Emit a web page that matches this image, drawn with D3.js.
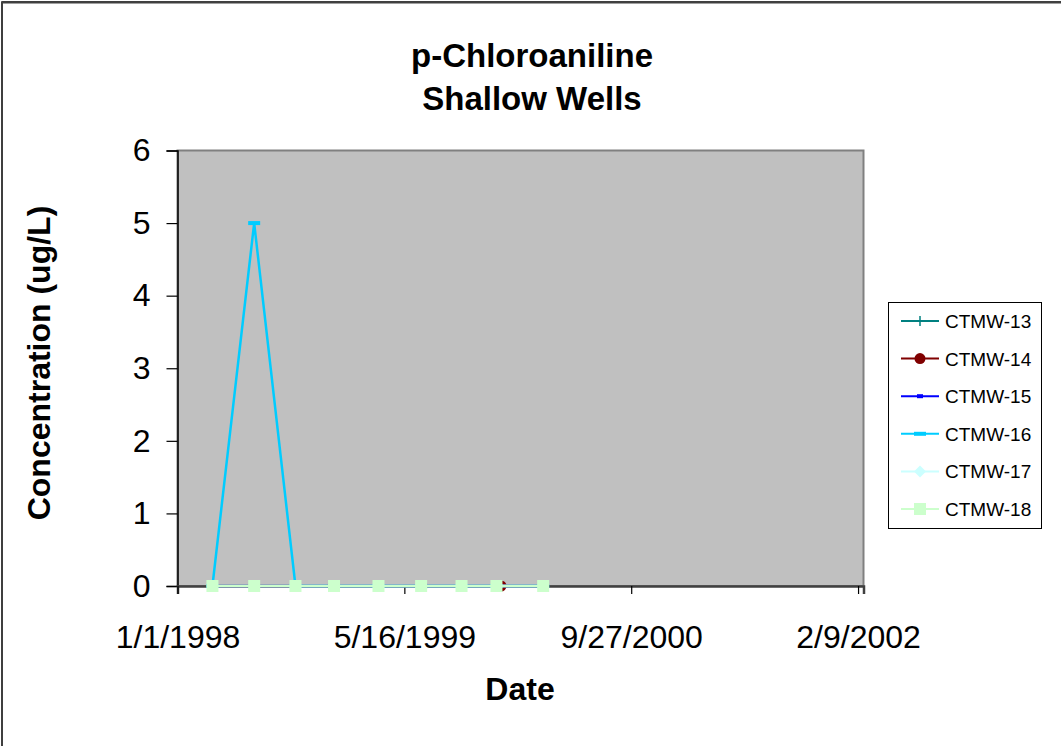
<!DOCTYPE html>
<html>
<head>
<meta charset="utf-8">
<script src="https://cdn.jsdelivr.net/npm/d3@7"></script>
<style>
  html, body { margin: 0; padding: 0; background: #fff; }
  svg { display: block; font-family: Arial, "Liberation Sans", sans-serif; }
</style>
</head>
<body>
<svg id="chart" width="1061" height="746"></svg>
<script>
// Sampling dates (shared by most wells)
const sampleDates = ["1998-03-19", "1998-06-19", "1998-09-18", "1998-12-12", "1999-03-20",
                     "1999-06-22", "1999-09-19", "1999-12-05", "2000-03-17"];
const ctmw14Dates = ["1998-03-19", "1998-06-20", "1998-09-18", "1998-12-10", "1999-03-20",
                     "1999-06-24", "1999-09-19", "1999-12-15", "2000-03-17"];

// Concentrations (ug/L)
const ctmw13 = [0, 0, 0, 0, 0, 0, 0, 0, 0];
const ctmw14 = [0, 0, 0, 0, 0, 0, 0, 0, 0];
const ctmw15 = [0, 0, 0, 0, 0, 0, 0, 0, 0];
const ctmw16 = [0, 5, 0, 0, 0, 0, 0, 0, 0];
const ctmw17 = [0, 0, 0, 0, 0, 0, 0, 0, 0];
const ctmw18 = [0, 0, 0, 0, 0, 0, 0, 0, 0];

const seriesNames = ["CTMW-13", "CTMW-14", "CTMW-15", "CTMW-16", "CTMW-17", "CTMW-18"];
const xTickLabels = ["1/1/1998", "5/16/1999", "9/27/2000", "2/9/2002"];
const yTicks = [0, 1, 2, 3, 4, 5, 6];

const parse = d3.timeParse("%Y-%m-%d");
const parseTick = d3.timeParse("%m/%d/%Y");

const styles = [
  { color: "#008080", marker: "plus" },
  { color: "#800000", marker: "circle" },
  { color: "#0000FF", marker: "smallbar" },
  { color: "#00CCFF", marker: "bar" },
  { color: "#CCFFFF", marker: "diamond" },
  { color: "#CCFFCC", marker: "square" }
];

const series = [
  { name: seriesNames[0], dates: sampleDates, values: ctmw13 },
  { name: seriesNames[1], dates: ctmw14Dates, values: ctmw14 },
  { name: seriesNames[2], dates: sampleDates, values: ctmw15 },
  { name: seriesNames[3], dates: sampleDates, values: ctmw16 },
  { name: seriesNames[4], dates: sampleDates, values: ctmw17 },
  { name: seriesNames[5], dates: sampleDates, values: ctmw18 }
].map((s, i) => ({
  ...s, ...styles[i],
  points: s.dates.map((d, j) => ({ date: parse(d), value: s.values[j] }))
}));

const svg = d3.select("#chart");
const FONT = "Arial, 'Liberation Sans', sans-serif";

// Outer chart frame
svg.append("rect").attr("x", 2).attr("y", 2).attr("width", 1080).attr("height", 760)
  .attr("fill", "#fff").attr("stroke", "#000").attr("stroke-width", 1.5);
svg.append("line").attr("x1", 2).attr("x2", 1061).attr("y1", 2.5).attr("y2", 2.5)
  .attr("stroke", "#404040").attr("stroke-width", 2);

const plot = { left: 177.5, right: 863.5, top: 150.5, bottom: 586 };

const xMin = parseTick("1/1/1998");
const xMax = d3.timeDay.offset(xMin, 1512);
const x = d3.scaleTime().domain([xMin, xMax]).range([plot.left, plot.right]);
const y = d3.scaleLinear().domain([0, 6]).range([plot.bottom, plot.top]);

// Plot area
svg.append("rect")
  .attr("x", plot.left).attr("y", plot.top)
  .attr("width", plot.right - plot.left).attr("height", plot.bottom - plot.top)
  .attr("fill", "#C0C0C0").attr("stroke", "#808080").attr("stroke-width", 2);

// Y axis
const yAxis = d3.axisLeft(y).tickValues(yTicks).tickSize(11).tickPadding(16).tickFormat(d3.format("d"));
const yg = svg.append("g").attr("transform", `translate(${plot.left},0)`).call(yAxis);
yg.attr("font-size", null).attr("font-family", null);
yg.select(".domain").attr("stroke", "#000").attr("stroke-width", 1.5);
yg.selectAll(".tick line").attr("stroke", "#000").attr("stroke-width", 1.2);
yg.selectAll(".tick text").style("font-size", "32px").attr("fill", "#000").style("font-family", FONT);

// X axis
const xTickDates = xTickLabels.map(parseTick);
const xAxis = d3.axisBottom(x).tickValues(xTickDates).tickSize(8).tickPadding(31)
  .tickFormat((d, i) => xTickLabels[i]);
const xg = svg.append("g").attr("transform", `translate(0,${plot.bottom})`).call(xAxis);
xg.attr("font-size", null).attr("font-family", null);
xg.select(".domain").attr("stroke", "#404040").attr("stroke-width", 2.5);
xg.selectAll(".tick line").attr("stroke", "#000").attr("stroke-width", 1.2);
xg.selectAll(".tick text").style("font-size", "32px").attr("fill", "#000").style("font-family", FONT);

// Marker drawing
function drawMarker(g, type, color, cx, cy) {
  switch (type) {
    case "plus":
      g.append("path").attr("d", `M${cx - 5},${cy}H${cx + 5}M${cx},${cy - 5}V${cy + 5}`)
        .attr("stroke", color).attr("stroke-width", 1.5).attr("fill", "none");
      break;
    case "circle":
      g.append("circle").attr("cx", cx).attr("cy", cy).attr("r", 5.5).attr("fill", color);
      break;
    case "smallbar":
      g.append("rect").attr("x", cx - 3).attr("y", cy - 2).attr("width", 6).attr("height", 4).attr("fill", color);
      break;
    case "bar":
      g.append("rect").attr("x", cx - 6).attr("y", cy - 2).attr("width", 12).attr("height", 4).attr("fill", color);
      break;
    case "diamond":
      g.append("path").attr("d", `M${cx},${cy - 6}L${cx + 6},${cy}L${cx},${cy + 6}L${cx - 6},${cy}Z`).attr("fill", color);
      break;
    case "square":
      g.append("rect").attr("x", cx - 6).attr("y", cy - 6).attr("width", 12).attr("height", 12).attr("fill", color);
      break;
  }
}

const line = d3.line().x(d => x(d.date)).y(d => y(d.value));

series.forEach(s => {
  const g = svg.append("g");
  g.append("path").datum(s.points).attr("d", line)
    .attr("fill", "none").attr("stroke", s.color).attr("stroke-width", 2.5);
  s.points.forEach(p => drawMarker(g, s.marker, s.color, x(p.date), y(p.value)));
});

// Titles
const title = svg.append("text").attr("text-anchor", "middle")
  .attr("font-weight", "bold").style("font-size", "33px").attr("fill", "#000");
title.append("tspan").attr("x", 532).attr("y", 67).text("p-Chloroaniline");
title.append("tspan").attr("x", 532).attr("y", 110).text("Shallow Wells");

svg.append("text").attr("x", 520).attr("y", 700).attr("text-anchor", "middle")
  .attr("font-weight", "bold").style("font-size", "32px").text("Date");

svg.append("text").attr("transform", "translate(50,363) rotate(-90)")
  .attr("text-anchor", "middle").attr("font-weight", "bold").style("font-size", "32px")
  .text("Concentration (ug/L)");

// Legend
const legend = svg.append("g");
legend.append("rect").attr("x", 888.5).attr("y", 302.5).attr("width", 153).attr("height", 226)
  .attr("fill", "#fff").attr("stroke", "#000").attr("stroke-width", 1);
series.forEach((s, i) => {
  const ly = 321 + i * 37.6;
  legend.append("line").attr("x1", 901).attr("x2", 939).attr("y1", ly).attr("y2", ly)
    .attr("stroke", s.color).attr("stroke-width", 2);
  drawMarker(legend, s.marker, s.color, 920, ly);
  legend.append("text").attr("x", 945).attr("y", ly + 7).style("font-size", "19px").text(s.name);
});
</script>
</body>
</html>
